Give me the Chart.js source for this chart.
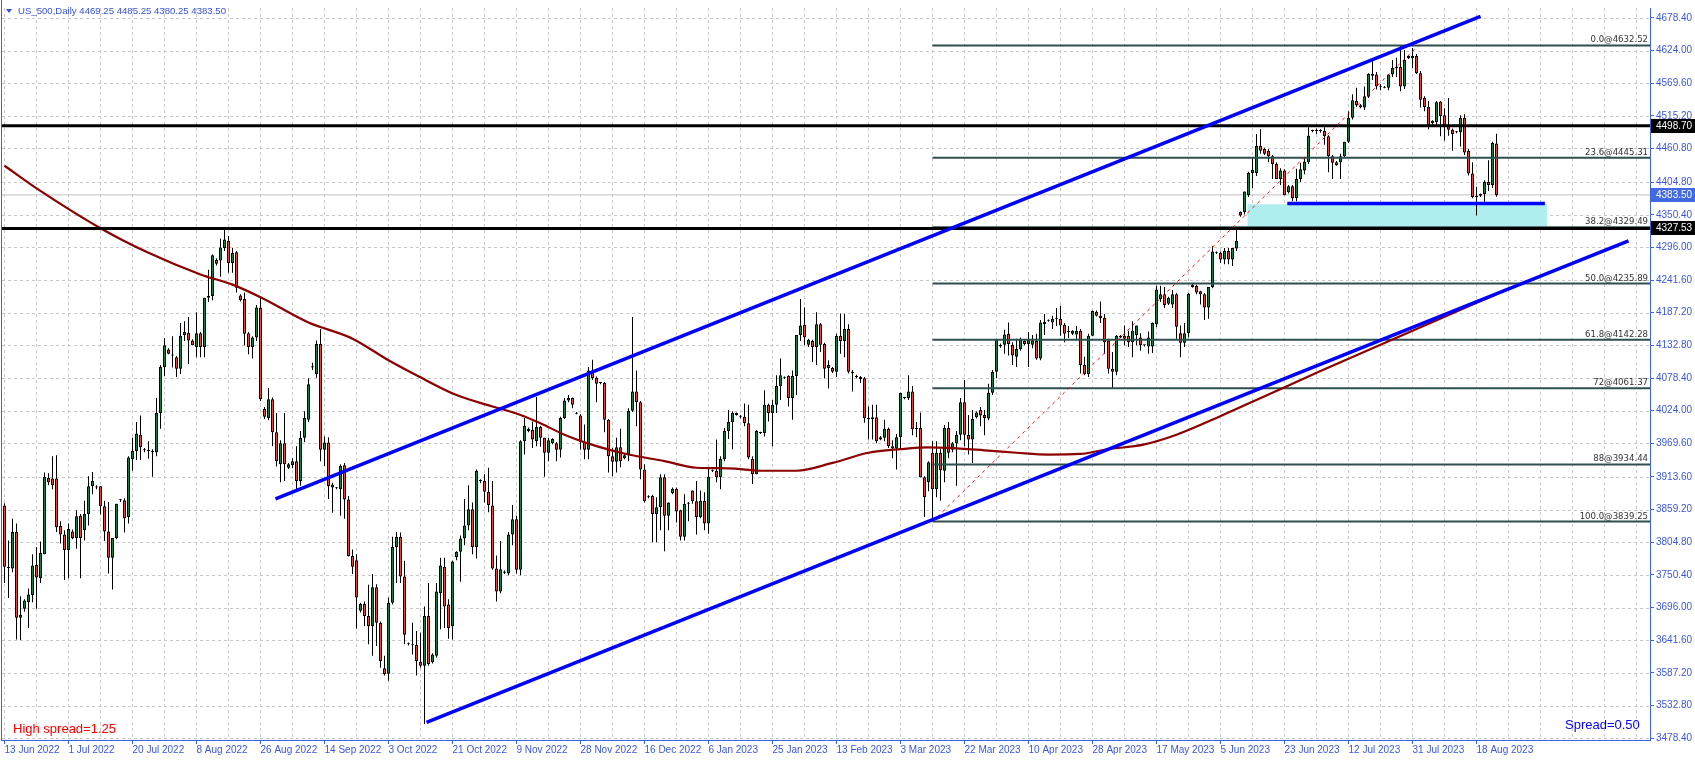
<!DOCTYPE html>
<html><head><meta charset="utf-8">
<script src="https://cdn.jsdelivr.net/npm/chart.js@4.4.1/dist/chart.umd.min.js"></script>
<style>
html,body{margin:0;padding:0;background:#fff;}
#wrap{position:relative;width:1695px;height:761px;overflow:hidden;background:#fff;}
#c{position:absolute;left:0;top:0;}
.t{position:absolute;font-family:"Liberation Sans",Arial,sans-serif;white-space:nowrap;line-height:14px;}
#hdr{left:6px;top:4px;font-size:9.6px;color:#3652d9;}
#tri{display:inline-block;width:0;height:0;border-left:3px solid transparent;border-right:3px solid transparent;border-top:4px solid #3652d9;margin-right:6px;vertical-align:1px;}
#hs{left:13px;top:721px;font-size:13px;color:#ff0000;line-height:15px;}
#sp{left:1565px;top:717px;font-size:13px;color:#0000ff;line-height:15px;}
</style></head><body>
<div id="wrap">
<canvas id="c" width="1695" height="761" style="width:1695px;height:761px"></canvas>
<div class="t" id="hdr"><span id="tri"></span>US_500,Daily 4469.25 4485.25 4380.25 4383.50</div>
<div class="t" id="hs">High spread=1.25</div>
<div class="t" id="sp">Spread=0.50</div>
</div>
<script>
// ---------- DATA ----------
const dateTickIdx = [0,16,32,48,64,80,96,112,128,144,160,176,192,208,224,240,256,272,288,304,320,336,352,368];
const dateTickLabels = ['13 Jun 2022','1 Jul 2022','20 Jul 2022','8 Aug 2022','26 Aug 2022','14 Sep 2022','3 Oct 2022','21 Oct 2022','9 Nov 2022','28 Nov 2022','16 Dec 2022','6 Jan 2023','25 Jan 2023','13 Feb 2023','3 Mar 2023','22 Mar 2023','10 Apr 2023','28 Apr 2023','17 May 2023','5 Jun 2023','23 Jun 2023','12 Jul 2023','31 Jul 2023','18 Aug 2023'];
const priceTicks = [3478.40,3532.80,3587.20,3641.60,3696.00,3750.40,3804.80,3859.20,3913.60,3969.60,4024.00,4078.40,4132.80,4187.20,4241.60,4296.00,4350.40,4404.80,4460.80,4515.20,4569.60,4624.00,4678.40];

const openVals = [
3866,3764,3761,3822,3679,3694,3705,3717,3767,3745,
3785,3912,3911,3911,3832,3818,3792,3823,3812,3849,
3825,3852,3898,3897,3898,3865,3823,3779,3812,3875,
3875,3847,3943,3957,3984,3958,3958,3957,3955,4020,
4097,4126,4116,4113,4094,4150,4154,4141,4130,4153,
4130,4212,4215,4275,4274,4295,4307,4270,4288,4216,
4210,4153,4130,4146,4196,4027,4012,4043,3988,3935,
3970,3929,3933,3940,3907,3979,4009,4098,4085,4135,
3959,3971,3896,3895,3893,3933,3876,3782,3775,3691,
3702,3682,3665,3730,3671,3595,3586,3704,3797,3814,
3748,3636,3636,3634,3606,3599,3682,3605,3616,3720,
3764,3701,3665,3780,3789,3811,3833,3860,3797,3907,
3907,3889,3866,3761,3723,3756,3753,3818,3843,3759,
3973,3990,3992,3973,3997,3979,3954,3970,3970,3959,
4012,4041,4045,4020,4016,3972,3959,4091,4079,4070,
4070,4009,3948,3939,3963,3945,3950,4024,4056,4038,
3926,3880,3882,3852,3863,3913,3849,3887,3894,3858,
3814,3869,3891,3873,3847,3874,3836,3924,3924,3913,
3943,3990,4005,4017,4014,4014,4003,3944,3918,3987,
3987,4034,4020,4034,4065,4079,4082,4045,4082,4150,
4167,4134,4140,4130,4168,4135,4095,4095,4089,4149,
4140,4160,4089,4082,4080,4078,4012,4010,4013,3976,
3979,3994,3965,3961,3980,4045,4045,4056,3995,3995,
3913,3905,3954,3893,3954,3924,3995,3959,3970,3984,
4038,3984,3976,4013,4025,4017,4011,4054,4089,4134,
4134,4152,4134,4114,4127,4140,4135,4134,4140,4111,
4172,4174,4171,4177,4177,4167,4155,4152,4151,4157,
4100,4085,4149,4189,4182,4179,4141,4094,4089,4146,
4149,4149,4138,4150,4146,4133,4131,4131,4168,4210,
4218,4202,4201,4218,4153,4137,4153,4234,4232,4223,
4218,4196,4230,4287,4287,4276,4290,4276,4294,4355,
4355,4383,4420,4420,4465,4460,4457,4448,4435,4410,
4424,4388,4398,4378,4410,4424,4438,4490,4490,4490,
4490,4481,4448,4438,4438,4448,4472,4512,4540,4533,
4529,4547,4585,4584,4564,4563,4562,4584,4595,4597,
4564,4611,4611,4615,4586,4545,4530,4503,4505,4539,
4516,4500,4492,4488,4488,4512,4457,4419,4380,4382,
4385,4405,4400,4469.25];

const highVals = [
3870,3808,3844,3836,3715,3710,3728,3785,3797,3806,
3921,3920,3948,3950,3840,3825,3836,3826,3858,3852,
3874,3915,3922,3900,3898,3874,3872,3812,3869,3877,
3878,3948,3979,4005,4016,3962,3973,3960,4045,4100,
4145,4128,4148,4115,4170,4173,4180,4143,4188,4155,
4212,4259,4284,4278,4311,4325,4315,4295,4290,4218,
4221,4155,4148,4200,4212,4030,4062,4046,4020,3975,
4020,3937,3945,3965,3990,4023,4078,4104,4141,4160,
3981,3980,3904,3897,3935,3937,3882,3793,3785,3704,
3706,3734,3752,3735,3673,3616,3713,3814,3822,3821,
3774,3638,3671,3657,3654,3698,3737,3620,3737,3779,
3779,3710,3774,3790,3816,3877,3900,3871,3926,3910,
3918,3929,3907,3783,3807,3758,3822,3867,3849,3975,
4012,3996,4006,4047,3999,3979,3979,3978,3972,4014,
4045,4050,4046,4022,4018,4001,4097,4109,4081,4072,
4072,4010,3962,3979,3994,3952,4028,4180,4091,4040,
3935,3883,3884,3880,3918,3918,3871,3896,3896,3859,
3885,3872,3891,3907,3891,3888,3929,3926,3976,3948,
3995,4025,4023,4021,4017,4036,4034,3948,3992,3989,
4058,4036,4042,4083,4111,4081,4083,4091,4150,4210,
4196,4144,4142,4188,4170,4137,4108,4097,4152,4186,
4185,4168,4092,4084,4082,4080,4031,4034,4034,3982,
4009,3996,3975,3985,4054,4047,4083,4065,4005,4021,
3915,3940,3973,3973,3960,4000,4005,3972,3990,4045,
4075,4017,4025,4023,4030,4025,4069,4092,4142,4136,
4159,4171,4138,4144,4146,4142,4155,4150,4152,4175,
4185,4176,4182,4195,4199,4170,4165,4158,4165,4160,
4114,4152,4191,4191,4206,4185,4144,4122,4150,4150,
4166,4157,4173,4166,4153,4134,4156,4171,4232,4232,
4230,4214,4225,4220,4166,4170,4220,4236,4234,4224,
4220,4230,4298,4289,4289,4295,4295,4295,4325,4356,
4389,4422,4445,4485,4493,4462,4460,4450,4438,4428,
4426,4400,4400,4427,4437,4445,4496,4492,4494,4493,
4496,4483,4450,4440,4452,4472,4523,4551,4562,4535,
4564,4586,4606,4588,4568,4565,4585,4608,4612,4632,
4625,4616,4628,4618,4590,4548,4540,4508,4540,4540,
4528,4545,4494,4490,4516,4518,4460,4438,4397,4386,
4408,4441,4472,4485.25];

const lowVals = [
3737,3712,3755,3643,3642,3689,3662,3705,3694,3737,
3785,3900,3893,3822,3803,3742,3745,3810,3794,3745,
3808,3833,3885,3893,3851,3807,3753,3726,3810,3872,
3821,3836,3924,3942,3942,3955,3944,3914,3948,3994,
4082,4118,4096,4080,4085,4140,4102,4133,4113,4113,
4113,4205,4208,4266,4247,4290,4254,4254,4221,4206,
4133,4118,4111,4140,4040,4010,4008,3965,3931,3905,
3907,3927,3928,3893,3899,3972,4005,4092,4079,3940,
3932,3877,3854,3893,3849,3844,3781,3752,3661,3688,
3665,3635,3616,3632,3596,3583,3574,3701,3737,3737,
3635,3633,3618,3583,3596,3502,3599,3603,3613,3660,
3662,3644,3643,3775,3739,3800,3825,3785,3778,3903,
3871,3855,3759,3706,3720,3752,3750,3800,3753,3750,
3951,3988,3962,3965,3964,3914,3940,3968,3940,3946,
4010,4038,4028,4018,3959,3943,3943,4075,4038,4068,
3988,3921,3915,3921,3930,3943,3940,4022,3998,3910,
3871,3878,3805,3805,3825,3790,3825,3885,3838,3808,
3808,3840,3869,3818,3845,3825,3819,3922,3905,3893,
3940,3977,3960,4016,4011,3998,3943,3902,3918,3985,
3981,4006,3965,4020,4042,4077,4031,4009,4050,4140,
4133,4130,4105,4100,4122,4078,4061,4087,4080,4119,
4113,4086,4056,4078,4070,4004,3976,3976,3970,3975,
3973,3962,3945,3926,3960,4043,4042,3983,3980,3913,
3847,3890,3839,3880,3874,3905,3945,3955,3899,3975,
3965,3951,3937,4011,3998,3983,4008,4050,4078,4129,
4119,4116,4100,4097,4124,4133,4097,4128,4109,4108,
4150,4172,4160,4165,4149,4138,4145,4150,4141,4086,
4083,4080,4148,4181,4170,4119,4086,4062,4083,4145,
4133,4130,4113,4133,4124,4131,4119,4120,4163,4205,
4195,4200,4195,4144,4113,4130,4146,4229,4218,4201,
4175,4177,4228,4285,4270,4268,4268,4265,4290,4347,
4351,4380,4395,4415,4452,4450,4438,4410,4410,4400,
4383,4386,4373,4373,4405,4418,4435,4488,4485,4487,
4467,4421,4410,4432,4410,4445,4470,4509,4530,4528,
4525,4545,4575,4559,4558,4561,4558,4580,4580,4556,
4560,4610,4595,4585,4529,4523,4493,4500,4498,4481,
4474,4482,4457,4486,4464,4450,4416,4378,4349,4380,
4372,4390,4395,4380.25];

const closeVals = [
3764,3762,3822,3679,3684,3708,3718,3766,3746,3787,
3914,3905,3900,3830,3818,3792,3827,3812,3848,3812,
3852,3898,3907,3896,3865,3823,3779,3812,3869,3875,
3845,3946,3957,3986,3963,3959,3957,3955,4020,4097,
4133,4119,4117,4094,4149,4155,4141,4133,4153,4130,
4212,4215,4283,4269,4296,4309,4270,4287,4229,4208,
4152,4130,4146,4196,4043,4014,4043,3988,3940,3970,
3935,3935,3940,3907,3979,4012,4068,4096,4135,3959,
3971,3898,3901,3895,3932,3876,3782,3764,3713,3702,
3682,3665,3730,3671,3607,3585,3704,3797,3814,3748,
3651,3635,3634,3607,3599,3682,3602,3618,3723,3766,
3698,3662,3773,3789,3811,3833,3860,3797,3924,3907,
3889,3867,3761,3723,3760,3754,3818,3843,3759,3973,
3999,3994,3976,3997,3979,3954,3975,3977,3959,4012,
4041,4045,4034,4019,3972,3959,4091,4078,4069,4070,
4009,3948,3939,3963,3940,3950,4024,4056,4038,3926,
3873,3881,3852,3863,3913,3849,3871,3894,3856,3814,
3869,3869,3873,3847,3874,3836,3914,3924,3913,3944,
3990,4005,4020,4020,4014,4003,3946,3918,3990,3987,
4034,4020,4034,4065,4083,4079,4045,4082,4150,4166,
4146,4142,4130,4168,4134,4094,4100,4089,4149,4140,
4160,4089,4087,4080,4077,4012,4010,4013,3973,3980,
3994,3965,3961,3980,4054,4045,4056,3993,3993,3913,
3880,3938,3893,3954,3925,3995,3954,3970,3984,4038,
3984,3976,4010,4021,4016,4012,4054,4089,4142,4131,
4151,4135,4116,4127,4144,4135,4142,4141,4111,4171,
4168,4174,4177,4177,4166,4152,4155,4157,4157,4100,
4085,4149,4190,4182,4178,4138,4094,4089,4149,4149,
4144,4138,4157,4166,4133,4133,4146,4170,4226,4218,
4200,4212,4218,4164,4137,4153,4219,4230,4221,4218,
4196,4230,4289,4287,4276,4290,4276,4295,4307,4349,
4389,4420,4425,4465,4457,4452,4448,4435,4410,4424,
4383,4398,4378,4410,4426,4439,4482,4490,4491,4490,
4481,4448,4437,4433,4448,4472,4512,4541,4533,4529,
4548,4585,4582,4564,4563,4562,4584,4595,4597,4564,
4608,4615,4615,4586,4542,4530,4498,4507,4538,4515,
4498,4492,4485,4488,4512,4454,4419,4380,4382,4385,
4405,4400,4470,4383.5];

// moving average (bar index -> value)
const maIdx  = [0,7,24,36,49,57,64,76,87,96,103,113,122,129,134,140,148,156,165,173,181,190,198,207,216,224,231,236,245,253,261,269,275,285,293,303,316,329,341,354,367,373];
const maVals = [4432,4399,4328,4287,4251,4234,4213,4171,4144,4108,4083,4050,4031,4017,4003,3984,3965,3951,3940,3929,3928,3924,3924,3937,3954,3960,3963,3962,3958,3954,3951,3952,3959,3968,3984,4012,4051,4090,4125,4163,4201,4218];

// Fibonacci retracement
const fibNames  = ['0.0','23.6','38.2','50.0','61.8','72','88','100.0'];
const fibPrices = [4632.52,4445.31,4329.49,4235.89,4142.28,4061.37,3934.44,3839.25];
const fibStartIdx = 232;
const fibTrendIdx = [232, 353.5];
const fibTrendVals = [3839.25, 4632.52];

// channel trend lines
const upperLineIdx = [67.75, 369];
const upperLineVals = [3877, 4681];
const lowerLineIdx = [105.5, 406];
const lowerLineVals = [3505, 4307];

// horizontal levels
const blackLevels = [4498.70, 4327.53];
const lastPrice = 4383.50;
const supportIdx = [320.7, 385.1];
const supportVal = 4369;
const zoneIdx = [310.7, 385.7];
const zoneVals = [4330.5, 4368];

// ---------- CHART ----------
const X_MIN = -0.625, X_MAX = 411.375;
const AXIS_BLUE = '#3d57d8';
const FRAME_BLUE = '#3f63e0';
const BULL = '#157f43', BEAR = '#e8453c';

Chart.defaults.font.family = '"Liberation Sans", Arial, sans-serif';

const pts = (xs, ys) => xs.map((v,k)=>({x:v, y:ys[k]}));
const hLine = (x0, x1, v) => [{x:x0,y:v},{x:x1,y:v}];

const datasets = [];
// cyan zone (two edges + fill between)
datasets.push({type:'line', data: hLine(zoneIdx[0], zoneIdx[1], zoneVals[0]), borderWidth:0, borderColor:'rgba(0,0,0,0)', pointRadius:0, fill:false, order:20});
datasets.push({type:'line', data: hLine(zoneIdx[0], zoneIdx[1], zoneVals[1]), borderWidth:0, borderColor:'rgba(0,0,0,0)', pointRadius:0, fill:'-1', backgroundColor:'#afeeee', order:19});
// last price line
datasets.push({type:'line', data: hLine(X_MIN, X_MAX, lastPrice), borderColor:'#c0c0c0', borderWidth:1, pointRadius:0, fill:false, order:18});
// wicks
datasets.push({type:'bar', data: openVals.map((o,i)=>({x:i, y:[lowVals[i], highVals[i]]})), backgroundColor:'#000', borderWidth:0, barThickness:1, grouped:false, inflateAmount:0, minBarLength:1, order:17});
// bodies
datasets.push({type:'bar', data: openVals.map((o,i)=>({x:i, y:[o, closeVals[i]]})),
  backgroundColor: openVals.map((o,i)=> closeVals[i] >= o ? BULL : BEAR),
  borderColor:'#000', borderWidth:1, borderSkipped:false, barThickness:3, grouped:false, inflateAmount:0, minBarLength:1, order:16});
// fib levels
fibPrices.forEach(p => datasets.push({type:'line', data: hLine(fibStartIdx, X_MAX, p), borderColor:'#2f4f4f', borderWidth:2, pointRadius:0, fill:false, order:12}));
// moving average
datasets.push({type:'line', data: pts(maIdx, maVals), borderColor:'#8b0000', borderWidth:2.2, pointRadius:0, cubicInterpolationMode:'monotone', fill:false, order:11});
// black horizontal levels
blackLevels.forEach(v => datasets.push({type:'line', data: hLine(X_MIN, X_MAX, v), borderColor:'#000', borderWidth:3, pointRadius:0, fill:false, order:10}));
// fib trend (red dotted)
datasets.push({type:'line', data: pts(fibTrendIdx, fibTrendVals), borderColor:'#ff0000', borderWidth:1, borderDash:[3,4], pointRadius:0, fill:false, order:9});
// blue lines
datasets.push({type:'line', data: pts(upperLineIdx, upperLineVals), borderColor:'#0000ff', borderWidth:3.5, pointRadius:0, fill:false, order:8});
datasets.push({type:'line', data: pts(lowerLineIdx, lowerLineVals), borderColor:'#0000ff', borderWidth:3.5, pointRadius:0, fill:false, order:8});
datasets.push({type:'line', data: hLine(supportIdx[0], supportIdx[1], supportVal), borderColor:'#0000ff', borderWidth:3.5, pointRadius:0, fill:false, order:8});

const gridPlugin = {
  id:'mtgrid',
  beforeDatasetsDraw(chart){
    const {ctx, chartArea:a, scales:{x,y}} = chart;
    ctx.save();
    ctx.beginPath(); ctx.rect(a.left, a.top, a.right-a.left, a.bottom-a.top); ctx.clip();
    ctx.strokeStyle = '#c8c8c8'; ctx.lineWidth = 1; ctx.setLineDash([3,3]);
    ctx.beginPath();
    for (let v = 0; v <= X_MAX; v += 8) {
      const px = Math.floor(x.getPixelForValue(v)) + 0.5;
      ctx.moveTo(px, a.top); ctx.lineTo(px, a.bottom);
    }
    priceTicks.forEach(v => {
      const py = Math.round(y.getPixelForValue(v)) + 0.5;
      ctx.moveTo(a.left, py); ctx.lineTo(a.right, py);
    });
    ctx.stroke();
    ctx.restore();
  },
  afterDatasetsDraw(chart){
    const {ctx, chartArea:a, scales:{y}} = chart;
    ctx.save();
    ctx.font = '9.5px "Liberation Sans Narrow", "DejaVu Sans Condensed", "Liberation Sans", sans-serif';
    ctx.fillStyle = '#333';
    ctx.textAlign = 'right'; ctx.textBaseline = 'bottom';
    fibPrices.forEach((p,k) => {
      ctx.fillText(fibNames[k] + '@' + p.toFixed(2), a.right - 2, Math.round(y.getPixelForValue(p)) - 1);
    });
    ctx.fillStyle = FRAME_BLUE;
    ctx.fillRect(a.left - 1, 0, 1, a.bottom + 1);
    ctx.restore();
  },
  afterDraw(chart){
    const {ctx, chartArea:a, scales:{y}} = chart;
    ctx.save();
    ctx.font = '10px "Liberation Sans", Arial, sans-serif';
    ctx.textAlign = 'left'; ctx.textBaseline = 'middle';
    const boxes = [[blackLevels[0], '#000'], [blackLevels[1], '#000'], [lastPrice, '#4169e1']];
    boxes.forEach(([v, bg]) => {
      const py = Math.round(y.getPixelForValue(v));
      ctx.fillStyle = bg; ctx.fillRect(a.right + 1, py - 7, chart.width - a.right - 1, 14);
      ctx.fillStyle = '#fff'; ctx.fillText(v.toFixed(2), a.right + 6, py + 0.5);
    });
    ctx.restore();
  }
};

new Chart(document.getElementById('c'), {
  type:'bar',
  data:{datasets},
  options:{
    responsive:false, maintainAspectRatio:false, animation:false, devicePixelRatio:1,
    layout:{padding:{left:2, top:1, right:0, bottom:0}, autoPadding:false},
    plugins:{legend:{display:false}, tooltip:{enabled:false}},
    scales:{
      x:{type:'linear', min:X_MIN, max:X_MAX, offset:false,
        grid:{display:true, drawOnChartArea:false, drawTicks:true, tickLength:4, tickColor:FRAME_BLUE, offset:false},
        border:{display:true, color:FRAME_BLUE, width:1},
        afterBuildTicks: ax => { ax.ticks = dateTickIdx.map(v=>({value:v})); },
        afterFit: ax => { ax.height = 21; },
        ticks:{autoSkip:false, maxRotation:0, minRotation:0, align:'start', padding:0, color:AXIS_BLUE, font:{size:10},
          callback:(v)=>{ const k = dateTickIdx.indexOf(v); return k >= 0 ? dateTickLabels[k] : ''; }}
      },
      y:{type:'linear', position:'right', min:3475.5, max:4694.8,
        grid:{display:true, drawOnChartArea:false, drawTicks:true, tickLength:4, tickColor:FRAME_BLUE},
        border:{display:true, color:FRAME_BLUE, width:1},
        afterBuildTicks: ax => { ax.ticks = priceTicks.map(v=>({value:v})); },
        afterFit: ax => { ax.width = 45; },
        ticks:{autoSkip:false, padding:2, color:AXIS_BLUE, font:{size:10}, callback:(v)=>Number(v).toFixed(2)}
      }
    }
  },
  plugins:[gridPlugin]
});
</script>
</body></html>
